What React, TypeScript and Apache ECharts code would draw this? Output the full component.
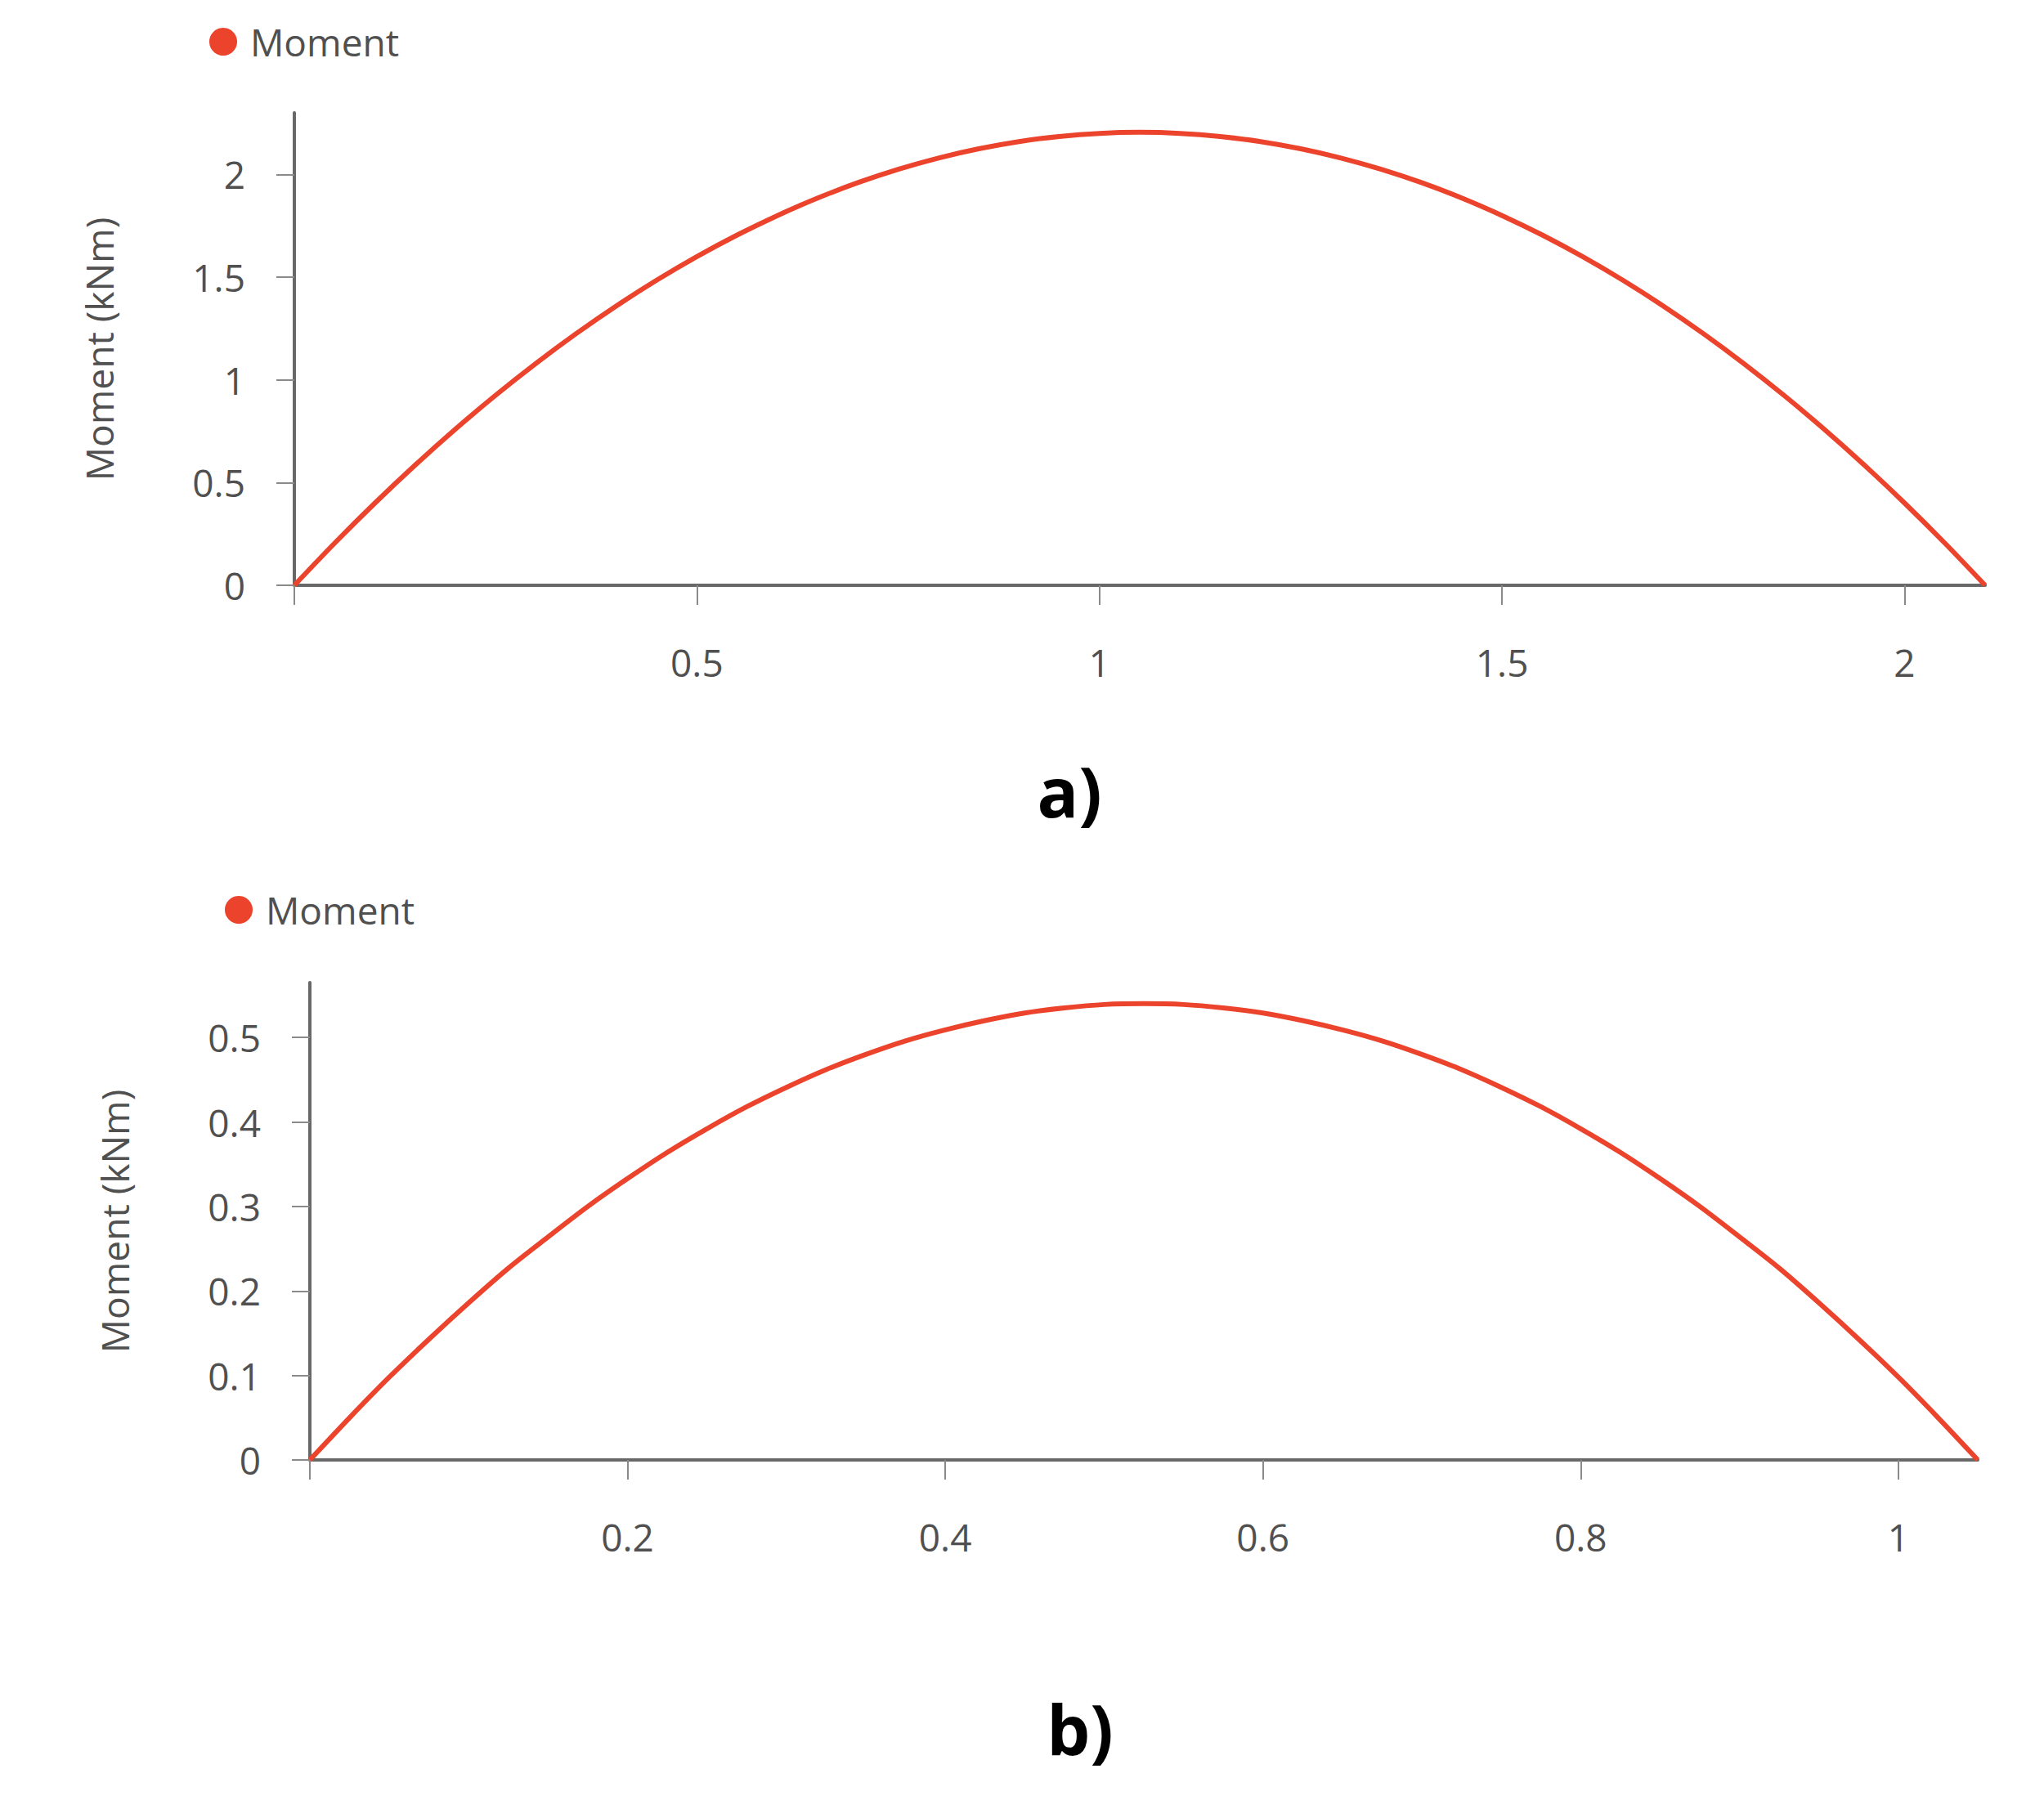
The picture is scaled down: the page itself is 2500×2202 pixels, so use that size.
import React, { useEffect, useRef } from "react";
import * as echarts from "echarts";

// ---- Chart a) data (span 2.1 m), every 0.05 m ----
const xA = [
  0, 0.05, 0.1, 0.15, 0.2, 0.25, 0.3, 0.35, 0.4, 0.45, 0.5, 0.55, 0.6, 0.65, 0.7, 0.75, 0.8, 0.85, 0.9, 0.95, 1.0,
  1.05,
  1.1, 1.15, 1.2, 1.25, 1.3, 1.35, 1.4, 1.45, 1.5, 1.55, 1.6, 1.65, 1.7, 1.75, 1.8, 1.85, 1.9, 1.95, 2.0, 2.05, 2.1,
];
const momentA = [
  0, 0.205, 0.4, 0.585, 0.76, 0.925, 1.08, 1.225, 1.36, 1.485, 1.6, 1.705, 1.8, 1.885, 1.96, 2.025, 2.08, 2.125, 2.16, 2.185, 2.2,
  2.205,
  2.2, 2.185, 2.16, 2.125, 2.08, 2.025, 1.96, 1.885, 1.8, 1.705, 1.6, 1.485, 1.36, 1.225, 1.08, 0.925, 0.76, 0.585, 0.4, 0.205, 0,
];
const xTicksA = [0, 0.5, 1, 1.5, 2];
const xLabelsA = [0.5, 1, 1.5, 2];
const yTicksA = [0, 0.5, 1, 1.5, 2];

// ---- Chart b) data (span 1.05 m), every 0.025 m ----
const xB = [
  0, 0.025, 0.05, 0.075, 0.1, 0.125, 0.15, 0.175, 0.2, 0.225, 0.25, 0.275, 0.3, 0.325, 0.35, 0.375, 0.4, 0.425, 0.45, 0.475, 0.5,
  0.525,
  0.55, 0.575, 0.6, 0.625, 0.65, 0.675, 0.7, 0.725, 0.75, 0.775, 0.8, 0.825, 0.85, 0.875, 0.9, 0.925, 0.95, 0.975, 1.0, 1.025, 1.05,
];
const momentB = [
  0, 0.05, 0.098, 0.143, 0.186, 0.227, 0.264, 0.3, 0.333, 0.364, 0.392, 0.418, 0.441, 0.462, 0.48, 0.496, 0.509, 0.52, 0.529, 0.535, 0.539,
  0.54,
  0.539, 0.535, 0.529, 0.52, 0.509, 0.496, 0.48, 0.462, 0.441, 0.418, 0.392, 0.364, 0.333, 0.3, 0.264, 0.227, 0.186, 0.143, 0.098, 0.05, 0,
];
const xTicksB = [0, 0.2, 0.4, 0.6, 0.8, 1];
const xLabelsB = [0.2, 0.4, 0.6, 0.8, 1];
const yTicksB = [0, 0.1, 0.2, 0.3, 0.4, 0.5];

const seriesName = "Moment";
const yTitle = "Moment (kNm)";
const captions = ["a)", "b)"];

const RED = "#ec432c";
const TEXT = "#505050";
const AXIS = "#686868";
const FONT = "Open Sans";

const fmt = (v: number) => String(Number(Number(v).toFixed(3)));

function xAxisCfg(gridIndex: number, max: number, ticks: number[], labels: number[]) {
  return {
    type: "value",
    gridIndex,
    min: 0,
    max,
    splitLine: { show: false },
    axisLine: { show: true, onZero: false, lineStyle: { color: AXIS, width: 4 } },
    axisTick: { show: true, length: 24, customValues: ticks, lineStyle: { color: "#8a8a8a", width: 2 } },
    axisLabel: {
      customValues: labels,
      margin: 71,
      fontSize: 46,
      fontFamily: FONT,
      color: TEXT,
      formatter: fmt,
    },
  };
}

function yAxisCfg(gridIndex: number, max: number, ticks: number[]) {
  return {
    type: "value",
    gridIndex,
    min: 0,
    max,
    name: yTitle,
    nameLocation: "middle",
    nameGap: 216,
    nameTextStyle: { fontSize: 46, fontFamily: FONT, color: TEXT },
    splitLine: { show: false },
    axisLine: { show: true, lineStyle: { color: AXIS, width: 4 } },
    axisTick: { show: true, length: 22, customValues: ticks, lineStyle: { color: "#8a8a8a", width: 2 } },
    axisLabel: {
      customValues: ticks,
      margin: 60,
      fontSize: 46,
      fontFamily: FONT,
      color: TEXT,
      formatter: fmt,
    },
  };
}

function legendCfg(left: number, top: number) {
  return {
    left,
    top,
    padding: 0,
    icon: "circle",
    itemWidth: 34,
    itemHeight: 34,
    data: [seriesName],
    selectedMode: false,
    textStyle: { fontSize: 46, lineHeight: 46, fontFamily: FONT, color: TEXT, padding: [0, 0, 0, 11] },
  };
}

export default function App() {
  const ref = useRef<HTMLDivElement>(null);
  useEffect(() => {
    document.body.style.margin = "0";
    if (!ref.current) return;
    const chart = echarts.init(ref.current, null, { renderer: "svg" });
    const dataA = xA.map((x, i) => [x, momentA[i]]);
    const dataB = xB.map((x, i) => [x, momentB[i]]);
    chart.setOption({
      animation: false,
      backgroundColor: "#ffffff",
      color: [RED],
      legend: [legendCfg(256, 28), legendCfg(275, 1090)],
      grid: [
        { left: 360, right: 72, top: 138, bottom: 2202 - 716 },
        { left: 379, right: 81, top: 1202, bottom: 2202 - 1786 },
      ],
      xAxis: [xAxisCfg(0, 2.1, xTicksA, xLabelsA), xAxisCfg(1, 1.05, xTicksB, xLabelsB)],
      yAxis: [yAxisCfg(0, 2.3, yTicksA), yAxisCfg(1, 0.565, yTicksB)],
      series: [
        {
          name: seriesName,
          type: "line",
          xAxisIndex: 0,
          yAxisIndex: 0,
          data: dataA,
          smooth: 0.3,
          symbol: "none",
          lineStyle: { color: RED, width: 6 },
          itemStyle: { color: RED },
        },
        {
          name: seriesName,
          type: "line",
          xAxisIndex: 1,
          yAxisIndex: 1,
          data: dataB,
          smooth: 0.3,
          symbol: "none",
          lineStyle: { color: RED, width: 6 },
          itemStyle: { color: RED },
        },
      ],
      graphic: [
        {
          type: "text",
          x: 1308,
          y: 967,
          style: { text: captions[0], fontSize: 84, fontWeight: "bold", fontFamily: FONT, fill: "#000", align: "center", verticalAlign: "middle" },
        },
        {
          type: "text",
          x: 1321,
          y: 2114,
          style: { text: captions[1], fontSize: 84, fontWeight: "bold", fontFamily: FONT, fill: "#000", align: "center", verticalAlign: "middle" },
        },
      ],
    });
    return () => chart.dispose();
  }, []);
  return <div ref={ref} style={{ width: 2500, height: 2202 }} />;
}
